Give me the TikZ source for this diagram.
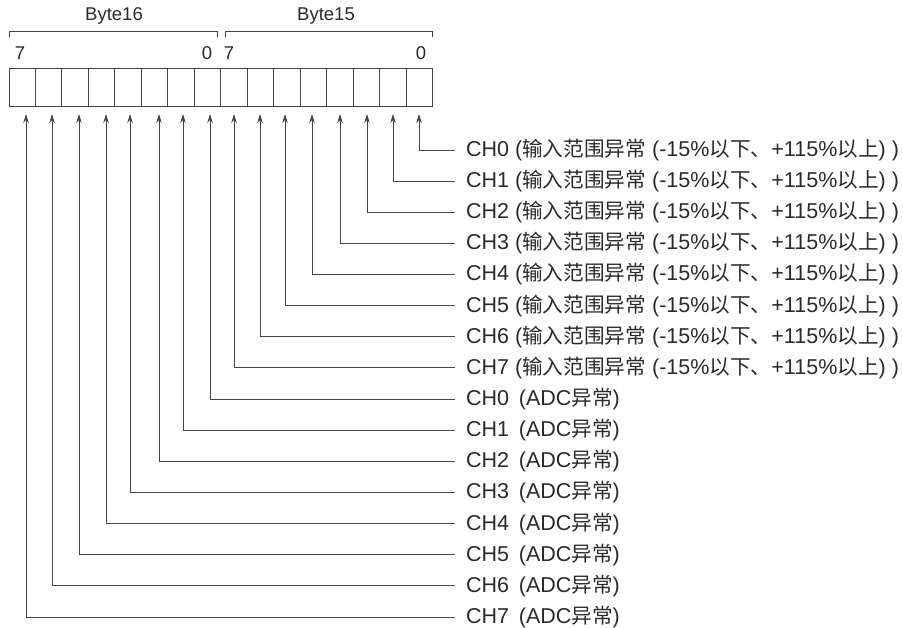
\documentclass[tikz,border=0pt]{standalone}
\usepackage{fontspec}
\setmainfont{Liberation Sans}
\newfontfamily\cjk[Scale=0.96]{Noto Sans CJK SC}
\usetikzlibrary{arrows.meta}
\definecolor{ln}{HTML}{444444}
\definecolor{tx}{HTML}{2A2A2A}
\begin{document}
\begin{tikzpicture}[x=1pt,y=-1pt,
  cell/.style={draw=ln,line width=1pt,minimum width=26.48pt,minimum height=37.7pt,inner sep=0pt,outer sep=0pt},
  hdr/.style={text=tx,font=\fontsize{18.5}{20}\selectfont,inner sep=0pt},
  lbl/.style={text=tx,font=\fontsize{21.5}{24}\selectfont,inner sep=0pt,anchor=west},
  conn/.style={draw=ln,line width=0.9pt,-{Stealth[length=9pt,width=5.5pt]}},
  brk/.style={draw=ln,line width=0.9pt}]
\useasboundingbox (0,0) rectangle (903,628);
% register cells
\foreach \i in {0,...,15} {
  \node[cell] (c\i) at ({9+26.48*(\i+0.5)},87.2) {};
}
% brackets
\coordinate (b16l) at (9,37);
\coordinate (b16r) at (217,37);
\coordinate (b15l) at (225,37);
\coordinate (b15r) at (432.7,37);
\draw[brk] (b16l) -- ++(0,-6) -| (b16r);
\draw[brk] (b15l) -- ++(0,-6) -| (b15r);
\node[hdr] (n16) at (114,16) {Byte16};
\node[hdr] (n15) at (326,16) {Byte15};
\node[hdr] (d1) at (20,53) {7};
\node[hdr] (d2) at (207,53) {0};
\node[hdr] (d3) at (229,53) {7};
\node[hdr] (d4) at (421,53) {0};
% arrows and labels
\foreach \k/\x in {0/419,1/393,2/367,3/340,4/312,5/285,6/260,7/234} {
  \coordinate (a\k) at (\x,114);
  \node[lbl] (t\k) at (466,{150+31.13*\k}) {CH\k\ ({\cjk 输入范围异常} (-15\%{\cjk 以下、}+115\%{\cjk 以上}) )};
  \draw[conn] ([xshift=-11pt]t\k.west) -| (a\k);
}
\foreach \k/\x/\c in {8/210/0,9/183/1,10/159/2,11/130/3,12/106/4,13/79/5,14/52/6,15/26/7} {
  \coordinate (a\k) at (\x,114);
  \node[lbl] (t\k) at (466,{150+31.13*\k}) {CH\c\hspace{0.45em}(ADC{\cjk 异常})};
  \draw[conn] ([xshift=-11pt]t\k.west) -| (a\k);
}
\end{tikzpicture}
\end{document}
